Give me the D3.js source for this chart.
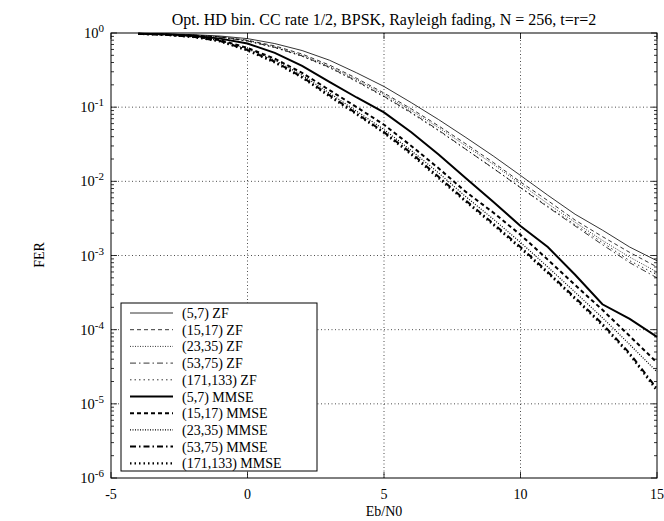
<!DOCTYPE html>
<html>
<head>
<meta charset="utf-8">
<script src="https://d3js.org/d3.v7.min.js"></script>
<style>
  body { margin: 0; background: #fff; }
  text { font-family: "Liberation Serif", "DejaVu Serif", serif; fill: #000; }
</style>
</head>
<body>
<div id="chart"></div>
<script>
// Eb/N0 values (dB)
var ebn0 = [-4, -3, -2, -1, 0, 1, 2, 3, 4, 5, 6, 7, 8, 9, 10, 11, 12, 13, 14, 15];

// FER values
var zf57     = [0.985, 0.97, 0.95, 0.91, 0.84, 0.72, 0.58, 0.43, 0.29, 0.19, 0.115, 0.068, 0.039, 0.022, 0.012, 0.0065, 0.0036, 0.0022, 0.0013, 8.5e-4];
var zf1517   = [0.98, 0.965, 0.94, 0.89, 0.80, 0.67, 0.52, 0.37, 0.245, 0.155, 0.095, 0.056, 0.032, 0.018, 0.0098, 0.0055, 0.0030, 0.0018, 0.0011, 7e-4];
var zf2335   = [0.98, 0.965, 0.94, 0.885, 0.79, 0.65, 0.50, 0.355, 0.235, 0.148, 0.090, 0.053, 0.030, 0.017, 0.0092, 0.0050, 0.0028, 0.0016, 9.5e-4, 6e-4];
var zf5375   = [0.98, 0.96, 0.935, 0.88, 0.78, 0.64, 0.49, 0.345, 0.225, 0.140, 0.085, 0.049, 0.027, 0.015, 0.0082, 0.0045, 0.0025, 0.0014, 8e-4, 5e-4];
var zf171133 = [0.98, 0.96, 0.935, 0.88, 0.78, 0.635, 0.485, 0.34, 0.22, 0.138, 0.083, 0.048, 0.027, 0.015, 0.0083, 0.0046, 0.0026, 0.0015, 8.5e-4, 5.5e-4];

var mm57     = [0.98, 0.96, 0.92, 0.84, 0.72, 0.54, 0.36, 0.22, 0.135, 0.085, 0.046, 0.023, 0.011, 0.0053, 0.0025, 0.0013, 5.5e-4, 2.2e-4, 1.4e-4, 8e-5];
var mm1517   = [0.975, 0.95, 0.90, 0.80, 0.63, 0.45, 0.29, 0.17, 0.10, 0.058, 0.030, 0.015, 0.0072, 0.0038, 0.0019, 8.8e-4, 4e-4, 1.85e-4, 8.2e-5, 3.6e-5];
var mm2335   = [0.975, 0.95, 0.895, 0.79, 0.61, 0.43, 0.27, 0.155, 0.088, 0.050, 0.026, 0.013, 0.0062, 0.0031, 0.0015, 7e-4, 3.2e-4, 1.45e-4, 6.3e-5, 2.7e-5];
var mm5375   = [0.975, 0.945, 0.89, 0.78, 0.59, 0.41, 0.255, 0.145, 0.082, 0.046, 0.024, 0.0115, 0.0055, 0.0027, 0.0013, 6e-4, 2.7e-4, 1.2e-4, 4.8e-5, 1.6e-5];
var mm171133 = [0.975, 0.945, 0.885, 0.77, 0.58, 0.40, 0.25, 0.14, 0.080, 0.045, 0.023, 0.011, 0.0053, 0.0026, 0.00125, 5.8e-4, 2.6e-4, 1.15e-4, 4.6e-5, 1.5e-5];

var seriesNames = ["(5,7) ZF", "(15,17) ZF", "(23,35) ZF", "(53,75) ZF", "(171,133) ZF",
                   "(5,7) MMSE", "(15,17) MMSE", "(23,35) MMSE", "(53,75) MMSE", "(171,133) MMSE"];
var seriesData = [zf57, zf1517, zf2335, zf5375, zf171133, mm57, mm1517, mm2335, mm5375, mm171133];

var xTicks = [-5, 0, 5, 10, 15];
var yExps = [0, -1, -2, -3, -4, -5, -6];

// line styles (thin for ZF, thick for MMSE)
var dashes = [null, "4,3", "1,1.5", "6,3,1.5,3", "1.5,3"];
var widths = [0.8, 0.8, 0.8, 0.8, 0.8, 2, 2, 1.2, 2, 2.2];

var W = 664, H = 521;
var margin = {top: 33, right: 7, bottom: 43, left: 111};
var width = W - margin.left - margin.right,
    height = H - margin.top - margin.bottom;

var svg = d3.select("#chart").append("svg")
    .attr("width", W).attr("height", H);
var g = svg.append("g")
    .attr("transform", "translate(" + margin.left + "," + margin.top + ")");

var x = d3.scaleLinear().domain([-5, 15]).range([0, width]);
var y = d3.scaleLog().domain([1e-6, 1]).range([height, 0]);

// grid
g.selectAll(".gx").data([0, 5, 10]).enter().append("line")
  .attr("x1", d => x(d)).attr("x2", d => x(d))
  .attr("y1", 0).attr("y2", height)
  .attr("stroke", "#000").attr("stroke-width", 0.7)
  .attr("stroke-dasharray", "1,2.5");
g.selectAll(".gy").data([-1, -2, -3, -4, -5]).enter().append("line")
  .attr("x1", 0).attr("x2", width)
  .attr("y1", d => y(Math.pow(10, d))).attr("y2", d => y(Math.pow(10, d)))
  .attr("stroke", "#000").attr("stroke-width", 0.7)
  .attr("stroke-dasharray", "1,2.5");

// minor + major ticks on y (both sides)
var minor = [];
for (var e = -6; e < 0; e++) for (var m = 2; m <= 9; m++) minor.push(m * Math.pow(10, e));
g.selectAll(".my").data(minor).enter().append("path")
  .attr("d", d => "M0," + y(d) + "h3M" + width + "," + y(d) + "h-3")
  .attr("stroke", "#000").attr("stroke-width", 0.8);
g.selectAll(".My").data(yExps).enter().append("path")
  .attr("d", d => "M0," + y(Math.pow(10, d)) + "h6M" + width + "," + y(Math.pow(10, d)) + "h-6")
  .attr("stroke", "#000").attr("stroke-width", 0.8);
g.selectAll(".Mx").data(xTicks).enter().append("path")
  .attr("d", d => "M" + x(d) + "," + height + "v-6M" + x(d) + ",0v6")
  .attr("stroke", "#000").attr("stroke-width", 0.8);

// tick labels
g.selectAll(".xl").data(xTicks).enter().append("text")
  .attr("x", d => x(d)).attr("y", height + 21)
  .attr("text-anchor", "middle").style("font-size", "14px")
  .text(d => d);
var yl = g.selectAll(".yl").data(yExps).enter().append("text")
  .attr("x", -7).attr("y", d => y(Math.pow(10, d)) + 5)
  .attr("text-anchor", "end").style("font-size", "14.5px");
yl.append("tspan").text("10");
yl.append("tspan").attr("dy", -6).style("font-size", "11px").text(d => d);

// curves
var line = d3.line()
  .x((d, i) => x(ebn0[i]))
  .y(d => y(d));
g.selectAll(".curve").data(seriesData).enter().append("path")
  .attr("d", d => line(d))
  .attr("fill", "none").attr("stroke", "#000")
  .attr("stroke-width", (d, i) => widths[i])
  .attr("stroke-dasharray", (d, i) => dashes[i % 5]);

// border
g.append("rect").attr("width", width).attr("height", height)
  .attr("fill", "none").attr("stroke", "#000").attr("stroke-width", 1);

// legend
var lg = g.append("g").attr("transform", "translate(10,270)");
lg.append("rect").attr("width", 196).attr("height", 168)
  .attr("fill", "#fff").attr("stroke", "#000").attr("stroke-width", 1);
var rows = lg.selectAll(".row").data(seriesNames).enter().append("g")
  .attr("transform", (d, i) => "translate(0," + (10 + i * 16.7) + ")");
rows.append("line").attr("x1", 9).attr("x2", 52).attr("y1", 0).attr("y2", 0)
  .attr("stroke", "#000")
  .attr("stroke-width", (d, i) => widths[i])
  .attr("stroke-dasharray", (d, i) => dashes[i % 5]);
rows.append("text").attr("x", 61).attr("y", 5).style("font-size", "14px")
  .text(d => d);

// titles
svg.append("text").attr("x", margin.left + width / 2).attr("y", 25)
  .attr("text-anchor", "middle").style("font-size", "16px")
  .text("Opt. HD bin. CC rate 1/2, BPSK, Rayleigh fading, N = 256, t=r=2");
svg.append("text").attr("x", margin.left + width / 2).attr("y", 516)
  .attr("text-anchor", "middle").style("font-size", "14px")
  .text("Eb/N0");
svg.append("text").attr("transform", "translate(44,255) rotate(-90)")
  .attr("text-anchor", "middle").style("font-size", "14px")
  .text("FER");
</script>
</body>
</html>
